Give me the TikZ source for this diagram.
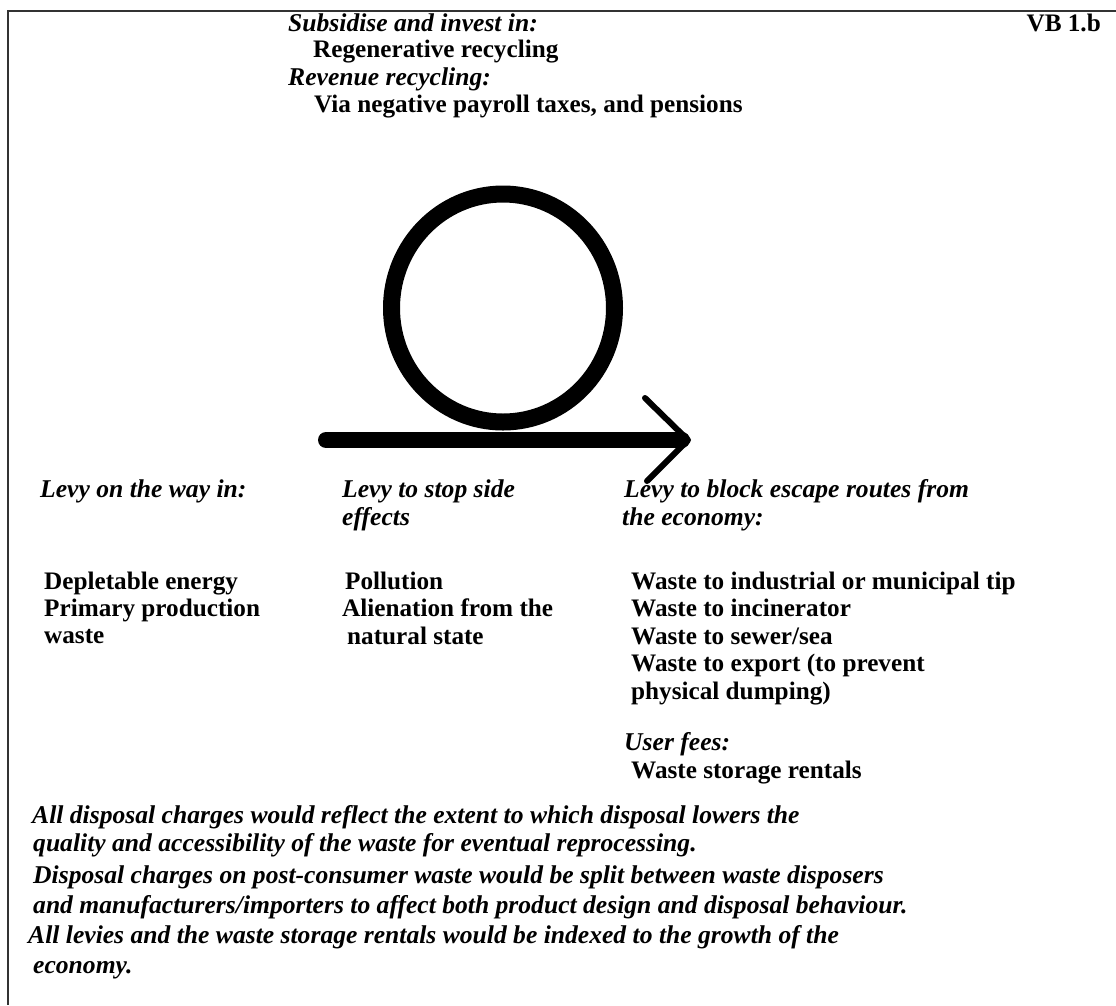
\documentclass[tikz,border=0pt]{standalone}
\usepackage{fontspec}
\setmainfont{Liberation Serif}
\begin{document}
\begin{tikzpicture}[x=1pt,y=-1pt,
  txt/.style={anchor=base west,inner sep=0pt,font=\fontsize{25.2}{28}\selectfont\bfseries},
  itx/.style={txt,font=\fontsize{25.6}{28}\selectfont\bfseries\itshape},
  frameline/.style={line width=1.3pt,draw=black!80},
  loopline/.style={line width=17pt},
  shaft/.style={line width=16pt,line cap=round},
  headline/.style={line width=6pt,line cap=round,line join=round}]
\useasboundingbox (0,0) rectangle (1116,1005);
\fill[white] (0,0) rectangle (1116,1005);
% frame (top and left edges)
\coordinate (ftl) at (8,11);
\coordinate (ftr) at (1116,11);
\coordinate (fbl) at (8,1005);
\draw[frameline] (ftr) -- (ftl) -- (fbl);
% top texts
\node[itx] (t1) at (288,31) {Subsidise and invest in:};
\node[txt] (t2) at (313,57) {Regenerative recycling};
\node[itx] (t3) at (288,85) {Revenue recycling:};
\node[txt] (t4) at (314,112) {Via negative payroll taxes, and pensions};
\node[txt,anchor=base east] (vb) at (1101,31) {VB 1.b};
% loop and arrow
\coordinate (cc) at (503,308);
\draw[loopline] (cc) ellipse [x radius=111.5, y radius=114];
\coordinate (as) at (326,440);
\coordinate (ae) at (682,440);
\coordinate (tip) at (688,440);
\coordinate (hu) at (645,398);
\coordinate (hl) at (647,481);
\draw[shaft] (as) -- (ae);
\draw[headline] (hu) -- (tip) -- (hl);
% column 1
\node[itx] (c1h) at (40,497) {Levy on the way in:};
\node[txt] (c1a) at (44,589) {Depletable energy};
\node[txt] (c1b) at (44,616) {Primary production};
\node[txt] (c1c) at (44,643) {waste};
% column 2
\node[itx] (c2h) at (342,497) {Levy to stop side};
\node[itx] (c2i) at (342,525) {effects};
\node[txt] (c2a) at (345,589) {Pollution};
\node[txt] (c2b) at (342,616) {Alienation from the};
\node[txt] (c2c) at (347,644) {natural state};
% column 3
\node[itx] (c3h) at (624,497) {Levy to block escape routes from};
\node[itx] (c3i) at (622,525) {the economy:};
\node[txt] (c3a) at (631,589) {Waste to industrial or municipal tip};
\node[txt] (c3b) at (631,616) {Waste to incinerator};
\node[txt] (c3c) at (631,644) {Waste to sewer/sea};
\node[txt] (c3d) at (631,671) {Waste to export (to prevent};
\node[txt] (c3e) at (631,699) {physical dumping)};
\node[itx] (c3f) at (624,750) {User fees:};
\node[txt] (c3g) at (631,778) {Waste storage rentals};
% bottom paragraph
\node[itx] (p1) at (32,823) {All disposal charges would reflect the extent to which disposal lowers the};
\node[itx] (p2) at (33,851) {quality and accessibility of the waste for eventual reprocessing.};
\node[itx] (p3) at (33,883) {Disposal charges on post-consumer waste would be split between waste disposers};
\node[itx] (p4) at (33,913) {and manufacturers/importers to affect both product design and disposal behaviour.};
\node[itx] (p5) at (28,943) {All levies and the waste storage rentals would be indexed to the growth of the};
\node[itx] (p6) at (33,973) {economy.};
\end{tikzpicture}
\end{document}
